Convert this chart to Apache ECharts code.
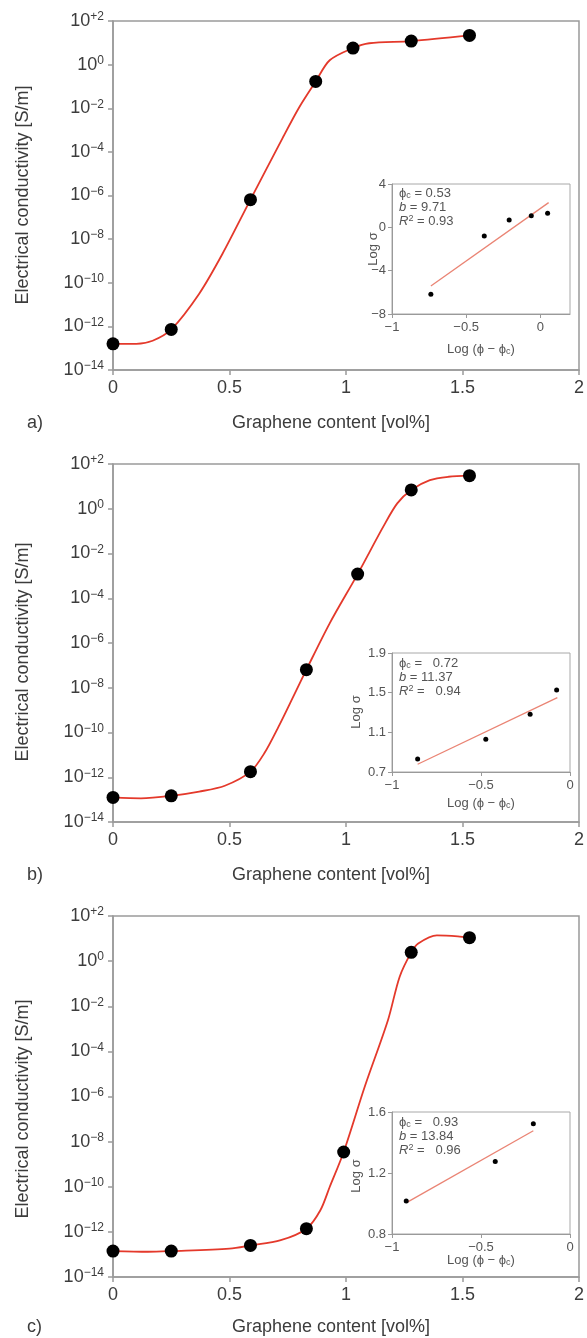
<!DOCTYPE html>
<html><head><meta charset="utf-8">
<script src="https://cdn.jsdelivr.net/npm/echarts@6/dist/echarts.min.js"></script>
<style>html,body{margin:0;padding:0;background:#fff}#c{width:587px;height:1338px}</style>
</head><body><div id="c"></div>
<script>
// ---------- DATA ----------
// main plots: x = graphene content [vol%], y = log10(conductivity [S/m])
const xTickValues = [0, 0.5, 1, 1.5, 2];
const yExpTicks = [-14, -12, -10, -8, -6, -4, -2, 0, 2];

const markX_a = [0, 0.25, 0.59, 0.87, 1.03, 1.28, 1.53];
const markLog_a = [-12.8, -12.14, -6.19, -0.77, 0.76, 1.08, 1.34];
const curveX_a = [0, 0.1, 0.17, 0.25, 0.37, 0.47, 0.59, 0.73, 0.80, 0.87, 0.93, 1.03, 1.10, 1.28, 1.53];
const curveLog_a = [-12.8, -12.8, -12.66, -12.14, -10.5, -8.67, -6.19, -3.32, -1.94, -0.77, 0.2, 0.76, 0.98, 1.08, 1.34];

const markX_b = [0, 0.25, 0.59, 0.83, 1.05, 1.28, 1.53];
const markLog_b = [-12.9, -12.83, -11.75, -7.19, -2.92, 0.84, 1.48];
const curveX_b = [0, 0.12, 0.25, 0.37, 0.48, 0.59, 0.65, 0.71, 0.78, 0.83, 0.93, 1.05, 1.16, 1.22, 1.28, 1.36, 1.44, 1.53];
const curveLog_b = [-12.9, -12.94, -12.83, -12.64, -12.38, -11.75, -10.92, -9.75, -8.26, -7.19, -5.12, -2.92, -0.8, 0.24, 0.84, 1.28, 1.43, 1.48];

const markX_c = [0, 0.25, 0.59, 0.83, 0.99, 1.28, 1.53];
const markLog_c = [-12.85, -12.85, -12.6, -11.86, -8.46, 0.39, 1.04];
const curveX_c = [0, 0.15, 0.25, 0.5, 0.59, 0.72, 0.83, 0.89, 0.93, 0.99, 1.08, 1.18, 1.23, 1.28, 1.31, 1.39, 1.48, 1.53];
const curveLog_c = [-12.85, -12.88, -12.85, -12.74, -12.6, -12.37, -11.86, -11.04, -10.01, -8.46, -5.58, -2.62, -0.7, 0.39, 0.78, 1.14, 1.1, 1.04];

// insets: x = Log(phi - phi_c), y = Log sigma
const insX_a = [-0.738, -0.378, -0.21, -0.061, 0.049];
const insY_a = [-6.18, -0.8, 0.68, 1.08, 1.29];
const fitX_a = [-0.738, 0.056];
const fitY_a = [-5.42, 2.28];
const insXTicks_a = [-1, -0.5, 0];
const insYTicks_a = [-8, -4, 0, 4];

const insX_b = [-0.856, -0.473, -0.224, -0.075];
const insY_b = [0.831, 1.03, 1.282, 1.527];
const fitX_b = [-0.856, -0.071];
const fitY_b = [0.778, 1.45];
const insXTicks_b = [-1, -0.5, 0];
const insYTicks_b = [0.7, 1.1, 1.5, 1.9];

const insX_c = [-0.92, -0.42, -0.206];
const insY_c = [1.016, 1.276, 1.523];
const fitX_c = [-0.916, -0.206];
const fitY_c = [1.007, 1.477];
const insXTicks_c = [-1, -0.5, 0];
const insYTicks_c = [0.8, 1.2, 1.6];

const fitParams = [
  {phi: '0.53', b: '9.71', r2: '0.93', pad: ''},
  {phi: '0.72', b: '11.37', r2: '0.94', pad: '  '},
  {phi: '0.93', b: '13.84', r2: '0.96', pad: '  '}
];
const panelLabels = ['a)', 'b)', 'c)'];
const xTitle = 'Graphene content [vol%]';
const yTitle = 'Electrical conductivity [S/m]';

// ---------- LAYOUT ----------
const FONT = '"Liberation Sans", Arial, Helvetica, sans-serif';
const TXT = '#3c3c3c';
const INS_TXT = '#555';
const AX = '#9a9a9a';
const mainGrids = [
  {left: 113, top: 21, width: 466, height: 349},
  {left: 113, top: 464, width: 466, height: 358},
  {left: 113, top: 916, width: 466, height: 361}
];
const insetGrids = [
  {left: 392, top: 184, width: 178, height: 130},
  {left: 392, top: 653, width: 178, height: 119},
  {left: 392, top: 1112, width: 178, height: 122}
];
const insetRange = [
  {xmin: -1, xmax: 0.2, ymin: -8, ymax: 4, dec: 0},
  {xmin: -1, xmax: 0, ymin: 0.7, ymax: 1.9, dec: 1},
  {xmin: -1, xmax: 0, ymin: 0.8, ymax: 1.6, dec: 1}
];
const textPos = [
  {ytY: 195, xtY: 423, lsX: 373, lsY: 249, lxY: 349, legY: 193},
  {ytY: 652, xtY: 875, lsX: 356, lsY: 712, lxY: 803, legY: 663},
  {ytY: 1109, xtY: 1327, lsX: 356, lsY: 1176, lxY: 1260, legY: 1122}
];

const markers = [[markX_a, markLog_a], [markX_b, markLog_b], [markX_c, markLog_c]];
const curves = [[curveX_a, curveLog_a], [curveX_b, curveLog_b], [curveX_c, curveLog_c]];
const insPts = [[insX_a, insY_a], [insX_b, insY_b], [insX_c, insY_c]];
const fits = [[fitX_a, fitY_a], [fitX_b, fitY_b], [fitX_c, fitY_c]];
const insXT = [insXTicks_a, insXTicks_b, insXTicks_c];
const insYT = [insYTicks_a, insYTicks_b, insYTicks_c];

const pair = (xs, ys) => xs.map((x, i) => [x, ys[i]]);
const minus = s => String(s).replace('-', '\u2212');

const grid = [], xAxis = [], yAxis = [], series = [], graphic = [];

for (let p = 0; p < 3; p++) {
  // main grid
  grid.push(Object.assign({show: true, borderColor: AX, borderWidth: 1.5, backgroundColor: 'transparent'}, mainGrids[p]));
  const gi = grid.length - 1;
  xAxis.push({
    type: 'value', gridIndex: gi, min: 0, max: 2, interval: 0.5,
    axisLine: {show: true, onZero: false, lineStyle: {color: AX, width: 1.5}},
    axisTick: {show: true, length: 5, lineStyle: {color: AX, width: 1.5}},
    splitLine: {show: false},
    axisLabel: {fontSize: 18, color: TXT, fontFamily: FONT, margin: 9, formatter: v => String(v)}
  });
  yAxis.push({
    type: 'value', gridIndex: gi, min: -14, max: 2, interval: 2,
    axisLine: {show: true, onZero: false, lineStyle: {color: AX, width: 1.5}},
    axisTick: {show: true, length: 5, lineStyle: {color: AX, width: 1.5}},
    splitLine: {show: false},
    axisLabel: {
      margin: 9, fontFamily: FONT,
      formatter: v => {
        const e = Math.round(v);
        const s = e > 0 ? '+' + e : (e < 0 ? '\u2212' + (-e) : '0');
        return '{b|10}{s|' + s + '}';
      },
      rich: {
        b: {fontSize: 18, color: TXT, fontFamily: FONT, lineHeight: 20},
        s: {fontSize: 12, color: TXT, fontFamily: FONT, lineHeight: 12, verticalAlign: 'top'}
      }
    }
  });
  series.push({
    type: 'line', xAxisIndex: gi, yAxisIndex: gi, smooth: 0.3,
    showSymbol: false, symbol: 'none',
    data: pair(curves[p][0], curves[p][1]),
    lineStyle: {color: '#e4392b', width: 1.8}, z: 2, silent: true
  });
  series.push({
    type: 'scatter', xAxisIndex: gi, yAxisIndex: gi, symbolSize: 13,
    data: pair(markers[p][0], markers[p][1]),
    itemStyle: {color: '#000', opacity: 1}, z: 3
  });

  // inset grid
  grid.push(Object.assign({show: true, borderColor: '#a8a8a8', borderWidth: 1, backgroundColor: '#fff'}, insetGrids[p]));
  const ii = grid.length - 1;
  const r = insetRange[p];
  xAxis.push({
    type: 'value', gridIndex: ii, min: r.xmin, max: r.xmax,
    axisLine: {show: true, onZero: false, lineStyle: {color: AX, width: 1}},
    axisTick: {show: true, length: 4, customValues: insXT[p], lineStyle: {color: AX}},
    splitLine: {show: false},
    axisLabel: {fontSize: 13, color: INS_TXT, fontFamily: FONT, margin: 7, customValues: insXT[p], formatter: v => minus(v)}
  });
  yAxis.push({
    type: 'value', gridIndex: ii, min: r.ymin, max: r.ymax,
    axisLine: {show: true, onZero: false, lineStyle: {color: AX, width: 1}},
    axisTick: {show: true, length: 4, customValues: insYT[p], lineStyle: {color: AX}},
    splitLine: {show: false},
    axisLabel: {fontSize: 13, color: INS_TXT, fontFamily: FONT, margin: 6, customValues: insYT[p], formatter: v => minus(v.toFixed(r.dec))}
  });
  series.push({
    type: 'line', xAxisIndex: ii, yAxisIndex: ii, showSymbol: false, symbol: 'none',
    data: pair(fits[p][0], fits[p][1]),
    lineStyle: {color: '#ea8474', width: 1.3}, z: 4, silent: true
  });
  series.push({
    type: 'scatter', xAxisIndex: ii, yAxisIndex: ii, symbolSize: 5,
    data: pair(insPts[p][0], insPts[p][1]),
    itemStyle: {color: '#000', opacity: 1}, z: 5
  });

  // texts
  const t = textPos[p];
  graphic.push({
    type: 'text', x: 23, y: t.ytY, rotation: Math.PI / 2,
    style: {text: yTitle, fill: TXT, font: '18px ' + FONT, align: 'center', verticalAlign: 'middle'}
  });
  graphic.push({
    type: 'text', x: 331, y: t.xtY,
    style: {text: xTitle, fill: TXT, font: '18px ' + FONT, align: 'center', verticalAlign: 'middle'}
  });
  graphic.push({
    type: 'text', x: 27, y: t.xtY,
    style: {text: panelLabels[p], fill: TXT, font: '18px ' + FONT, align: 'left', verticalAlign: 'middle'}
  });
  graphic.push({
    type: 'text', x: t.lsX, y: t.lsY, rotation: Math.PI / 2,
    style: {text: 'Log \u03c3', fill: INS_TXT, font: '13px ' + FONT, align: 'center', verticalAlign: 'middle'}
  });
  const insRich = {
    t: {fontSize: 13, fill: INS_TXT, fontFamily: FONT, lineHeight: 14},
    it: {fontSize: 13, fill: INS_TXT, fontFamily: FONT, fontStyle: 'italic', lineHeight: 14},
    sub: {fontSize: 9, fill: INS_TXT, fontFamily: FONT, lineHeight: 9, verticalAlign: 'bottom', padding: [4, 0, 0, 0]},
    sup: {fontSize: 9, fill: INS_TXT, fontFamily: FONT, lineHeight: 9, verticalAlign: 'top'}
  };
  graphic.push({
    type: 'text', x: 481, y: t.lxY,
    style: {text: '{t|Log (\u03d5 \u2212 \u03d5}{sub|c}{t|)}', rich: insRich, align: 'center', verticalAlign: 'middle'}
  });
  const fp = fitParams[p];
  const lines = [
    '{t|\u03d5}{sub|c}{t| = ' + fp.pad + fp.phi + '}',
    '{it|b}{t| = ' + fp.b + '}',
    '{it|R}{sup|2}{t| = ' + fp.pad + fp.r2 + '}'
  ];
  lines.forEach((ln, k) => {
    graphic.push({
      type: 'text', x: 399, y: t.legY + k * 14, z: 10,
      style: {text: ln, rich: insRich, align: 'left', verticalAlign: 'middle'}
    });
  });
}

const chart = echarts.init(document.getElementById('c'), null, {renderer: 'canvas'});
chart.setOption({
  animation: false,
  backgroundColor: '#fff',
  grid, xAxis, yAxis, series, graphic
});
</script>
</body></html>
